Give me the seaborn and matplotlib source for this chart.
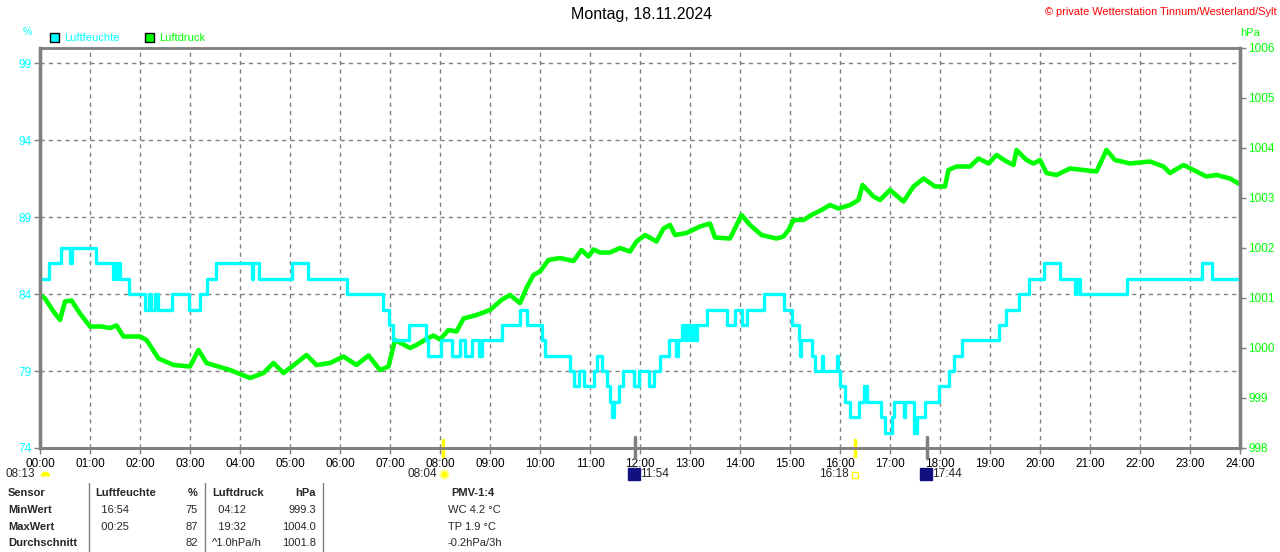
import numpy as np
import pandas as pd
import matplotlib
matplotlib.use("Agg")
import matplotlib.pyplot as plt
import seaborn as sns
from matplotlib.patches import Rectangle
from matplotlib.lines import Line2D
from matplotlib.markers import MarkerStyle
import matplotlib.transforms as mtransforms
from matplotlib.ticker import FixedLocator

# ---------------- data ----------------
title = "Montag, 18.11.2024"
copyright_text = "\u00a9 private Wetterstation Tinnum/Westerland/Sylt"

hour_labels = [f"{h:02d}:00" for h in range(25)]
hum_ticks = [74, 79, 84, 89, 94, 99]
press_ticks = [998, 999, 1000, 1001, 1002, 1003, 1004, 1005, 1006]

# Luftfeuchte (%), step changes: time in hours, value
hum_t = [0.00, 0.17, 0.41, 0.60, 0.63, 1.11, 1.45, 1.48, 1.52, 1.55, 1.59, 1.77,
         2.10, 2.17, 2.22, 2.30, 2.35, 2.63, 2.97, 3.20, 3.33, 3.51, 4.23, 4.26,
         4.38, 5.03, 5.35, 6.13, 6.85, 6.97, 7.05, 7.37, 7.72, 7.76, 8.03, 8.23,
         8.40, 8.50, 8.63, 8.77, 8.83, 9.23, 9.60, 9.73, 10.03, 10.10, 10.60, 10.67,
         10.77, 10.87, 11.07, 11.13, 11.23, 11.33, 11.40, 11.44, 11.48, 11.57, 11.65,
         11.87, 11.97, 12.17, 12.27, 12.40, 12.57, 12.72, 12.76, 12.83, 12.90, 12.93,
         13.00, 13.05, 13.10, 13.13, 13.33, 13.73, 13.90, 14.03, 14.13, 14.47, 14.87,
         15.03, 15.17, 15.19, 15.22, 15.43, 15.50, 15.63, 15.66, 15.93, 15.96, 16.00,
         16.10, 16.20, 16.37, 16.47, 16.53, 16.83, 16.90, 17.03, 17.07, 17.27, 17.30,
         17.47, 17.53, 17.70, 17.97, 18.17, 18.27, 18.43, 19.17, 19.33, 19.57, 19.77,
         20.07, 20.40, 20.70, 20.73, 20.80, 21.73, 23.23, 23.43, 24.00]
hum_v = [85, 86, 87, 86, 87, 86, 85, 86, 85, 86, 85, 84,
         83, 84, 83, 84, 83, 84, 83, 84, 85, 86, 85, 86,
         85, 86, 85, 84, 83, 82, 81, 82, 81, 80, 81, 80,
         81, 80, 81, 80, 81, 82, 83, 82, 81, 80, 79, 78,
         79, 78, 79, 80, 79, 78, 77, 76, 77, 78, 79,
         78, 79, 78, 79, 80, 81, 80, 81, 82, 81, 82,
         81, 82, 81, 82, 83, 82, 83, 82, 83, 84, 83,
         82, 81, 80, 81, 80, 79, 80, 79, 80, 79, 78,
         77, 76, 77, 78, 77, 76, 75, 76, 77, 76, 77,
         75, 76, 77, 78, 79, 80, 81, 82, 83, 84, 85,
         86, 85, 84, 85, 84, 85, 86, 85, 85]

# Luftdruck (hPa)
press_t = [0.00, 0.10, 0.27, 0.40, 0.50, 0.63, 0.80, 1.00, 1.23, 1.40, 1.53, 1.67,
           2.00, 2.13, 2.37, 2.67, 3.00, 3.17, 3.33, 3.80, 4.20, 4.47, 4.67, 4.87,
           5.13, 5.33, 5.53, 5.80, 6.07, 6.33, 6.57, 6.80, 6.97, 7.10, 7.40, 7.53,
           7.73, 7.87, 8.00, 8.17, 8.33, 8.47, 8.73, 9.00, 9.23, 9.40, 9.60, 9.73,
           9.87, 10.00, 10.17, 10.40, 10.67, 10.83, 10.97, 11.07, 11.20, 11.40, 11.60,
           11.80, 11.93, 12.10, 12.33, 12.47, 12.60, 12.70, 12.93, 13.20, 13.40, 13.50,
           13.80, 14.03, 14.20, 14.43, 14.73, 14.87, 14.97, 15.07, 15.27, 15.43, 15.63,
           15.80, 15.97, 16.20, 16.37, 16.45, 16.67, 16.80, 17.00, 17.27, 17.47, 17.67,
           17.90, 18.10, 18.17, 18.33, 18.60, 18.77, 18.97, 19.13, 19.33, 19.47, 19.53,
           19.73, 19.87, 20.00, 20.13, 20.33, 20.60, 20.87, 21.13, 21.33, 21.50, 21.80,
           22.20, 22.47, 22.60, 22.87, 23.07, 23.33, 23.53, 23.80, 23.97]
press_v = [1001.06, 1000.99, 1000.73, 1000.56, 1000.93, 1000.95, 1000.69, 1000.43, 1000.43, 1000.40, 1000.45, 1000.23,
           1000.23, 1000.16, 999.79, 999.66, 999.63, 999.96, 999.70, 999.56, 999.40, 999.50, 999.70, 999.50,
           999.70, 999.86, 999.66, 999.70, 999.83, 999.66, 999.85, 999.56, 999.63, 1000.16, 1000.00, 1000.06,
           1000.18, 1000.25, 1000.17, 1000.36, 1000.33, 1000.59, 1000.66, 1000.76, 1000.96, 1001.06, 1000.90, 1001.20,
           1001.46, 1001.53, 1001.76, 1001.80, 1001.74, 1001.96, 1001.83, 1001.97, 1001.91, 1001.91, 1002.00,
           1001.93, 1002.13, 1002.26, 1002.13, 1002.39, 1002.46, 1002.26, 1002.30, 1002.43, 1002.49, 1002.21,
           1002.19, 1002.66, 1002.46, 1002.26, 1002.19, 1002.23, 1002.36, 1002.56, 1002.56, 1002.66, 1002.76,
           1002.86, 1002.79, 1002.86, 1002.96, 1003.26, 1003.03, 1002.96, 1003.16, 1002.93, 1003.23, 1003.39,
           1003.23, 1003.23, 1003.56, 1003.63, 1003.63, 1003.79, 1003.69, 1003.86, 1003.73, 1003.66, 1003.96,
           1003.76, 1003.69, 1003.76, 1003.50, 1003.46, 1003.59, 1003.56, 1003.53, 1003.96, 1003.76, 1003.69,
           1003.73, 1003.63, 1003.50, 1003.66, 1003.56, 1003.43, 1003.46, 1003.39, 1003.29]

# sun / moon events (hours)
sun_times = [8 + 4/60, 16 + 18/60]
moon_times = [11 + 54/60, 17 + 44/60]

# table
table_rows = [
    ["Sensor", "Luftfeuchte", "%", "Luftdruck", "hPa", "PMV-1:4"],
    ["MinWert", "  16:54", "75", "  04:12", "999.3", "WC 4.2 \u00b0C"],
    ["MaxWert", "  00:25", "87", "  19:32", "1004.0", "TP 1.9 \u00b0C"],
    ["Durchschnitt", "", "82", "^1.0hPa/h", "1001.8", "-0.2hPa/3h"],
]

# ---------------- style ----------------
sns.set_style("white")
plt.rcParams["font.family"] = ["Liberation Sans", "DejaVu Sans"]

CYAN = "#00FFFF"
GREEN = "#00FF00"
GRAY = "#808080"

W, H = 1280, 552
fig = plt.figure(figsize=(12.8, 5.52), dpi=100)


def fx(x):
    return x / W


def fy(y):
    return 1 - y / H


ax2 = fig.add_axes([fx(40), fy(448), 1200 / W, 400 / H])
ax = ax2.twinx()
ax.yaxis.tick_left()
ax.yaxis.set_label_position("left")
ax2.yaxis.tick_right()
ax2.yaxis.set_label_position("right")

hum_df = pd.DataFrame({"t": hum_t, "v": hum_v})
press_df = pd.DataFrame({"t": press_t, "v": press_v})

sns.lineplot(data=press_df, x="t", y="v", ax=ax2, color=GREEN, lw=3.3,
             estimator=None, sort=False, legend=False)
sns.lineplot(data=hum_df, x="t", y="v", ax=ax, color=CYAN, lw=2.4,
             estimator=None, sort=False, legend=False, drawstyle="steps-post")

ax2.set_xlim(0, 24)
ax.set_ylim(74, 100)
ax2.set_ylim(998, 1006)
for a in (ax, ax2):
    a.set_xlabel("")
    a.set_ylabel("")

ax.set_yticks(hum_ticks)
ax.set_yticklabels([str(v) for v in hum_ticks])
ax2.set_yticks(press_ticks)
ax2.set_yticklabels([str(v) for v in press_ticks])
ax2.set_xticks(range(25))
ax2.set_xticklabels(hour_labels)
ax.tick_params(axis="x", bottom=False, labelbottom=False, top=False, labeltop=False)

# gridlines on the lower axes (behind both lines)
ax2.xaxis.grid(True, color=GRAY, ls=(0, (3, 3)), lw=1.0)
conv = [998 + (v - 74) * 8 / 26 for v in hum_ticks[1:]]
ax2.yaxis.set_minor_locator(FixedLocator(conv))
ax2.yaxis.grid(True, which="minor", color=GRAY, ls=(0, (3, 3)), lw=1.0)
ax2.yaxis.grid(False, which="major")
ax2.tick_params(axis="y", which="minor", length=0)

ax.set_zorder(ax2.get_zorder() + 1)
ax.patch.set_visible(False)

for a in (ax, ax2):
    for s in a.spines.values():
        s.set_color(GRAY)
    a.spines["left"].set_linewidth(2.4)
    a.spines["right"].set_linewidth(2.4)
    a.spines["bottom"].set_linewidth(2.0)
    a.spines["top"].set_linewidth(1.8)

ax.tick_params(axis="y", colors=GRAY, labelcolor=CYAN, length=4, width=1,
               labelsize=8.5, pad=2, direction="out", left=True)
ax2.tick_params(axis="y", which="major", colors=GRAY, labelcolor=GREEN, length=4, width=1,
                labelsize=8.5, pad=2, direction="out", right=True)
ax2.tick_params(axis="x", colors=GRAY, labelcolor="black", length=4, width=1,
                labelsize=8.5, pad=3, direction="out", bottom=True)

# sun / moon markers crossing the x-axis
trans = mtransforms.blended_transform_factory(ax2.transData, ax2.transAxes)
for t in sun_times:
    ax2.plot([t, t], [0.02, -0.02], color="#FFFF00", lw=2.5, transform=trans,
             clip_on=False, zorder=5)
for t in moon_times:
    ax2.plot([t, t], [0.028, -0.025], color=GRAY, lw=2.5, transform=trans,
             clip_on=False, zorder=5)

# ---------------- texts ----------------
fig.text(fx(642), fy(15), title, ha="center", va="center", fontsize=11.5, color="black")
fig.text(fx(1277), fy(12), copyright_text, ha="right", va="center", fontsize=7.9, color="#FF0000")
fig.text(fx(27), fy(32), "%", ha="center", va="center", fontsize=7.5, color=CYAN)
fig.text(fx(1250), fy(33), "hPa", ha="center", va="center", fontsize=8, color=GREEN)

# legend
for (x0, col, lab) in [(50, CYAN, "Luftfeuchte"), (145, GREEN, "Luftdruck")]:
    fig.add_artist(Rectangle((fx(x0), fy(42)), 9 / W, 9 / H, transform=fig.transFigure,
                             facecolor=col, edgecolor="black", lw=1))
    fig.text(fx(x0 + 14), fy(38), lab, ha="left", va="center", fontsize=8, color=col)

# sun/moon time labels
fig.text(fx(35), fy(474), "08:13", ha="right", va="center", fontsize=8.5)
fig.add_artist(Line2D([fx(45)], [fy(476)], marker=MarkerStyle("o", fillstyle="top"),
                      markersize=7, color="#FFFF00", markeredgewidth=0,
                      transform=fig.transFigure))
fig.text(fx(437), fy(474), "08:04", ha="right", va="center", fontsize=8.5)
fig.add_artist(Line2D([fx(444)], [fy(474)], marker="o", markersize=6, color="#FFFF00",
                      markeredgecolor="#FFFFA0", markeredgewidth=1.5, transform=fig.transFigure))
fig.add_artist(Line2D([fx(634)], [fy(474)], marker="s", markersize=8, color="#101080",
                      transform=fig.transFigure))
fig.text(fx(640), fy(474), "11:54", ha="left", va="center", fontsize=8.5)
fig.text(fx(849), fy(474), "16:18", ha="right", va="center", fontsize=8.5)
fig.add_artist(Line2D([fx(855)], [fy(475)], marker="s", markersize=4, color="#FFFF00",
                      fillstyle="none", markeredgewidth=1, transform=fig.transFigure))
fig.add_artist(Line2D([fx(926)], [fy(474)], marker="s", markersize=8, color="#101080",
                      transform=fig.transFigure))
fig.text(fx(932), fy(474), "17:44", ha="left", va="center", fontsize=8.5)

# table
for xs in [89, 205, 323]:
    fig.add_artist(Line2D([fx(xs), fx(xs)], [fy(483), fy(552)], color=GRAY, lw=1,
                          transform=fig.transFigure))
row_y = [493, 510, 527, 543]
col_spec = [(8, "left"), (95, "left"), (198, "right"), (212, "left"), (316, "right"), (448, "left")]
for r, row in enumerate(table_rows):
    for c, txt in enumerate(row):
        x, ha = col_spec[c]
        weight = "bold" if (r == 0 or c == 0) else "normal"
        if r == 0 and c == 5:
            fig.text(fx(473), fy(row_y[r]), txt, ha="center", va="center", fontsize=8,
                     fontweight="bold")
            continue
        fig.text(fx(x), fy(row_y[r]), txt, ha=ha, va="center", fontsize=8, fontweight=weight)

fig.savefig("out.png", dpi=100)
